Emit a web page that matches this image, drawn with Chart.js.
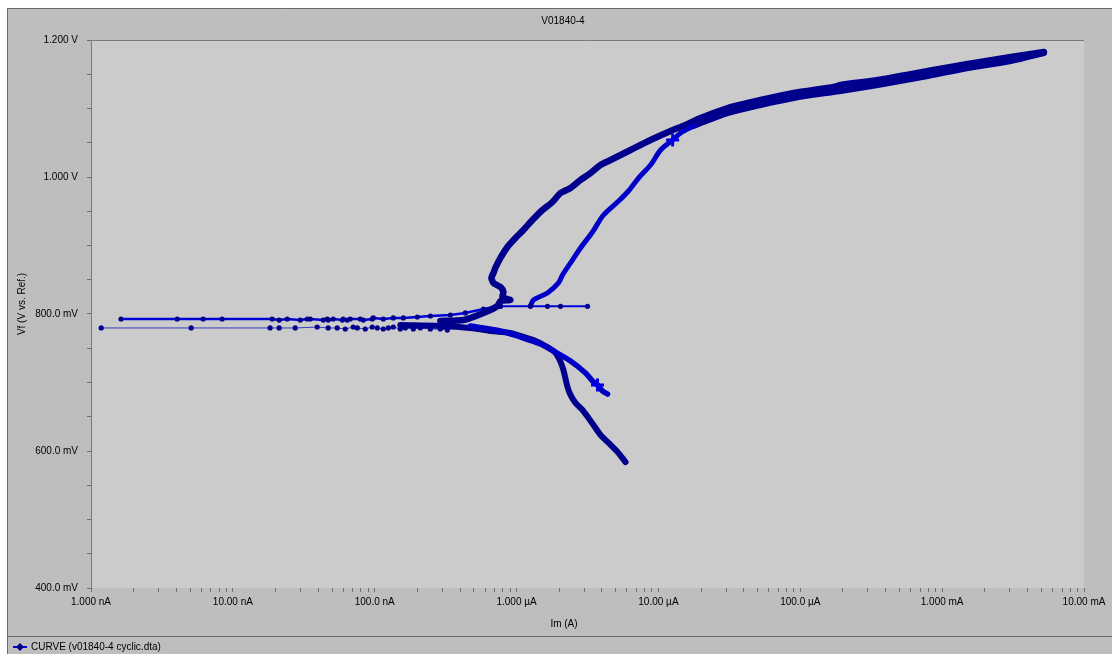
<!DOCTYPE html>
<html>
<head>
<meta charset="utf-8">
<script src="https://cdn.jsdelivr.net/npm/chart.js@4/dist/chart.umd.min.js"></script>
<style>
  html, body { margin: 0; padding: 0; background: #ffffff; }
  canvas { display: block; }
</style>
</head>
<body>
<canvas id="plot" width="1112" height="654"></canvas>
<script>
// ---- axis ticks ----
const decadeValues = [1e-9, 1e-8, 1e-7, 1e-6, 1e-5, 1e-4, 1e-3, 1e-2];
const decadeLabels = ['1.000 nA', '10.00 nA', '100.0 nA', '1.000 µA', '10.00 µA', '100.0 µA', '1.000 mA', '10.00 mA'];
const minorMultipliers = [2, 3, 4, 5, 6, 7, 8, 9];

// ---- measured curve: current Im (A) and potential Vf (V) ----
// low-current tail near the corrosion potential (lower line)
const tailLowI = [1.18e-9, 5.08e-9, 1.83e-8, 2.12e-8, 2.75e-8, 3.93e-8, 4.70e-8, 5.44e-8, 6.20e-8, 7.06e-8, 7.54e-8, 8.58e-8, 9.61e-8, 1.043e-7, 1.149e-7, 1.247e-7, 1.352e-7, 1.515e-7, 1.644e-7, 1.872e-7, 2.097e-7, 2.467e-7, 2.90e-7, 3.25e-7];
const tailLowV = [0.7796, 0.7796, 0.7796, 0.7796, 0.7796, 0.7810, 0.7796, 0.7796, 0.7781, 0.7810, 0.7796, 0.7781, 0.7810, 0.7796, 0.7781, 0.7796, 0.7810, 0.7781, 0.7796, 0.7781, 0.7796, 0.7781, 0.7781, 0.7766];

// low-current tail (upper line)
const tailHighI = [1.628e-9, 4.05e-9, 6.17e-9, 8.40e-9, 1.894e-8, 2.12e-8, 2.416e-8, 2.985e-8, 3.344e-8, 3.512e-8, 4.337e-8, 4.63e-8, 4.70e-8, 5.10e-8, 5.905e-8, 6.00e-8, 6.405e-8, 6.72e-8, 7.91e-8, 8.31e-8, 9.61e-8, 9.77e-8, 1.149e-7, 1.352e-7, 1.591e-7, 1.998e-7, 2.467e-7, 3.415e-7, 4.357e-7, 5.84e-7, 7.70e-7];
const tailHighV = [0.7927, 0.7927, 0.7927, 0.7927, 0.7927, 0.7912, 0.7927, 0.7912, 0.7927, 0.7927, 0.7912, 0.7927, 0.7912, 0.7927, 0.7912, 0.7927, 0.7912, 0.7927, 0.7927, 0.7912, 0.7927, 0.7942, 0.7927, 0.7942, 0.7942, 0.7956, 0.7971, 0.7985, 0.8015, 0.8073, 0.8117];

// cathodic branch, steep part
const cathodicI = [1.515e-7, 2.90e-7, 4.73e-7, 6.54e-7, 9.05e-7, 1.065e-6, 1.315e-6, 1.599e-6, 1.881e-6, 2.107e-6, 2.286e-6, 2.40e-6, 2.603e-6, 2.916e-6, 3.215e-6, 3.602e-6, 3.906e-6, 4.45e-6, 5.15e-6, 5.865e-6];
const cathodicV = [0.7839, 0.7825, 0.7796, 0.7752, 0.7723, 0.7679, 0.7620, 0.7533, 0.7431, 0.7226, 0.6934, 0.6818, 0.6701, 0.6599, 0.6482, 0.6336, 0.6234, 0.6117, 0.5985, 0.5839];

// cathodic branch ending near 0.68 V
const cathodic2I = [4.73e-7, 7.70e-7, 1.065e-6, 1.474e-6, 1.821e-6, 2.40e-6, 3.062e-6, 3.486e-6, 3.72e-6, 4.036e-6, 4.378e-6];
const cathodic2V = [0.7825, 0.7752, 0.7664, 0.7562, 0.7460, 0.7314, 0.7139, 0.7007, 0.6964, 0.6876, 0.6832];

// forward anodic scan up to the vertex
const forwardI = [2.90e-7, 4.22e-7, 5.84e-7, 7.33e-7, 7.70e-7, 9.05e-7, 7.95e-7, 8.08e-7, 7.70e-7, 6.87e-7, 6.65e-7, 6.87e-7, 7.09e-7, 7.70e-7, 8.62e-7, 9.82e-7, 1.118e-6, 1.294e-6, 1.522e-6, 1.791e-6, 2.04e-6, 2.40e-6, 2.823e-6, 3.32e-6, 3.906e-6, 4.60e-6, 6.36e-6, 8.80e-6, 1.218e-5, 1.555e-5, 1.984e-5, 3.076e-5, 5.26e-5, 8.99e-5, 1.722e-4, 1.93e-4, 3.52e-4, 7.93e-4, 1.52e-3, 3.056e-3, 5.22e-3];
const forwardV = [0.7898, 0.7912, 0.8015, 0.8117, 0.8190, 0.8204, 0.8248, 0.8321, 0.8394, 0.8453, 0.8526, 0.8599, 0.8672, 0.8818, 0.8978, 0.9109, 0.9226, 0.9372, 0.9518, 0.9635, 0.9766, 0.9839, 0.9956, 1.0058, 1.0175, 1.0248, 1.0394, 1.0540, 1.0672, 1.0759, 1.0861, 1.1007, 1.1124, 1.1226, 1.1314, 1.1343, 1.1416, 1.1547, 1.1650, 1.1752, 1.1825];

// reverse scan, high-current part
const reverseTopI = [5.22e-3, 3.056e-3, 1.52e-3, 7.93e-4, 3.52e-4, 1.93e-4, 1.722e-4, 8.99e-5, 5.26e-5, 3.076e-5, 1.771e-5];
const reverseTopV = [1.1810, 1.1693, 1.1591, 1.1474, 1.1343, 1.1255, 1.1241, 1.1153, 1.1051, 1.0934, 1.0745];

// reverse scan, return branch
const reverseLowI = [1.771e-5, 1.434e-5, 1.259e-5, 1.036e-5, 8.80e-6, 7.24e-6, 6.06e-6, 5.15e-6, 4.10e-6, 3.43e-6, 2.823e-6, 2.40e-6, 2.107e-6, 1.975e-6, 1.651e-6, 1.315e-6, 1.253e-6];
const reverseLowV = [1.0745, 1.0642, 1.0540, 1.0394, 1.0175, 0.9985, 0.9781, 0.9635, 0.9445, 0.9197, 0.8964, 0.8745, 0.8569, 0.8453, 0.8307, 0.8204, 0.8117];

// step at the end of the reverse scan
const stepI = [7.70e-7, 1.253e-6, 1.651e-6, 2.04e-6, 3.163e-6];
const stepV = [0.8112, 0.8112, 0.8112, 0.8112, 0.8112];

// highlighted points
const markerI = [3.72e-6, 1.259e-5];
const markerV = [0.6964, 1.0540];

const NAVY = '#00008c';
const BLUE = '#0000d8';
const FONT = '"Liberation Sans", Arial, sans-serif';

function pts(iArr, vArr) {
  return iArr.map((x, k) => ({ x: x, y: vArr[k] }));
}

function band(label, iArr, vArr, color, width, order, tension) {
  return {
    label: label, data: pts(iArr, vArr), showLine: true,
    borderColor: color, backgroundColor: color, borderWidth: width,
    borderJoinStyle: 'round', borderCapStyle: 'round',
    pointRadius: 0, tension: tension, order: order
  };
}

function dotted(label, iArr, vArr, lineColor, width, order) {
  return {
    label: label, data: pts(iArr, vArr), showLine: true,
    borderColor: lineColor, backgroundColor: NAVY, borderWidth: width,
    pointRadius: 2.6, pointBackgroundColor: NAVY, pointBorderWidth: 0,
    tension: 0, order: order
  };
}

const datasets = [
  dotted('CURVE (v01840-4 cyclic.dta)', tailLowI, tailLowV, 'rgba(30,30,190,0.85)', 1, 9),
  dotted('tail high', tailHighI, tailHighV, BLUE, 2.5, 8),
  band('cathodic', cathodicI, cathodicV, NAVY, 6, 7, 0.3),
  band('cathodic 2', cathodic2I, cathodic2V, '#0000c4', 5.5, 6, 0.3),
  band('forward', forwardI, forwardV, NAVY, 6.5, 5, 0.2),
  band('reverse top', reverseTopI, reverseTopV, NAVY, 6, 4, 0.3),
  band('reverse low', reverseLowI, reverseLowV, '#0000c8', 5, 3, 0.3),
  dotted('step', stepI, stepV, BLUE, 2, 2),
  {
    label: 'markers', data: pts(markerI, markerV), showLine: false,
    pointStyle: 'cross', pointRadius: 6.5, borderWidth: 3,
    borderColor: '#0000e6', pointBorderColor: '#0000e6', order: 1
  }
];

// tick positions on the log axis: 1..9 × each decade
const logTicks = [];
decadeValues.forEach((d, k) => {
  logTicks.push(d);
  if (k < decadeValues.length - 1) minorMultipliers.forEach(m => logTicks.push(m * d));
});

const framePlugin = {
  id: 'frame',
  beforeDraw(chart) {
    const ctx = chart.ctx, W = chart.width, H = chart.height, a = chart.chartArea;
    ctx.save();
    ctx.fillStyle = '#ffffff';
    ctx.fillRect(0, 0, W, H);
    ctx.fillStyle = '#bebebe';
    ctx.fillRect(7, 8, W - 7, H - 8);
    ctx.strokeStyle = '#6a6a6a';
    ctx.lineWidth = 1;
    ctx.beginPath();
    ctx.moveTo(7.5, H); ctx.lineTo(7.5, 8.5); ctx.lineTo(W, 8.5);
    ctx.moveTo(7, 636.5); ctx.lineTo(W, 636.5);
    ctx.stroke();
    ctx.fillStyle = '#cbcbcb';
    ctx.fillRect(a.left, a.top, a.right - a.left, a.bottom - a.top);
    ctx.strokeStyle = '#7a7a7a';
    ctx.beginPath();
    ctx.moveTo(a.left + 0.5, a.bottom); ctx.lineTo(a.left + 0.5, a.top + 0.5); ctx.lineTo(a.right, a.top + 0.5);
    ctx.stroke();
    ctx.restore();
  },
  afterDraw(chart) {
    const ctx = chart.ctx;
    ctx.save();
    ctx.fillStyle = '#000000';
    ctx.font = '10px ' + FONT;
    ctx.textAlign = 'center';
    ctx.textBaseline = 'middle';
    ctx.fillText('V01840-4', 563, 21);
    ctx.fillText('Im (A)', 564, 624);
    ctx.save();
    ctx.translate(22, 304);
    ctx.rotate(-Math.PI / 2);
    ctx.fillText('Vf (V vs. Ref.)', 0, 0);
    ctx.restore();
    // legend entry
    const y = 647;
    ctx.strokeStyle = BLUE;
    ctx.lineWidth = 2;
    ctx.beginPath(); ctx.moveTo(13, y); ctx.lineTo(27, y); ctx.stroke();
    ctx.fillStyle = NAVY;
    ctx.beginPath();
    ctx.moveTo(20, y - 4); ctx.lineTo(24, y); ctx.lineTo(20, y + 4); ctx.lineTo(16, y);
    ctx.closePath(); ctx.fill();
    ctx.fillStyle = '#000000';
    ctx.textAlign = 'left';
    ctx.fillText(chart.data.datasets[0].label, 31, y + 0.5);
    ctx.restore();
  }
};

new Chart(document.getElementById('plot'), {
  type: 'scatter',
  data: { datasets: datasets },
  options: {
    responsive: false,
    devicePixelRatio: 1,
    animation: false,
    layout: { padding: { left: 8, top: 40, right: 28, bottom: 0 } },
    plugins: { legend: { display: false }, title: { display: false }, tooltip: { enabled: false } },
    scales: {
      x: {
        type: 'logarithmic', position: 'bottom', min: 1e-9, max: 1e-2,
        afterBuildTicks: (scale) => { scale.ticks = logTicks.map(v => ({ value: v })); },
        afterFit: (scale) => { scale.height = 66; },
        border: { display: false },
        grid: { display: true, drawOnChartArea: false, drawTicks: true, tickLength: 4, tickColor: '#6e6e6e' },
        ticks: {
          autoSkip: false, maxRotation: 0, padding: 4, color: '#000000',
          font: { family: FONT, size: 10 },
          callback: (value) => {
            const k = decadeValues.findIndex(d => Math.abs(d - value) / d < 1e-6);
            return k >= 0 ? decadeLabels[k] : '';
          }
        }
      },
      y: {
        type: 'linear', position: 'left', min: 0.4, max: 1.2,
        afterFit: (scale) => { scale.width = 83; },
        border: { display: false },
        grid: { display: true, drawOnChartArea: false, drawTicks: true, tickLength: 4, tickColor: '#6e6e6e' },
        ticks: {
          stepSize: 0.05, autoSkip: false, padding: 9, color: '#000000',
          font: { family: FONT, size: 10 },
          callback: (v) => {
            if (Math.abs(v * 5 - Math.round(v * 5)) > 1e-6) return '';
            return v >= 1 ? v.toFixed(3) + ' V' : (v * 1000).toFixed(1) + ' mV';
          }
        }
      }
    }
  },
  plugins: [framePlugin]
});
</script>
</body>
</html>
